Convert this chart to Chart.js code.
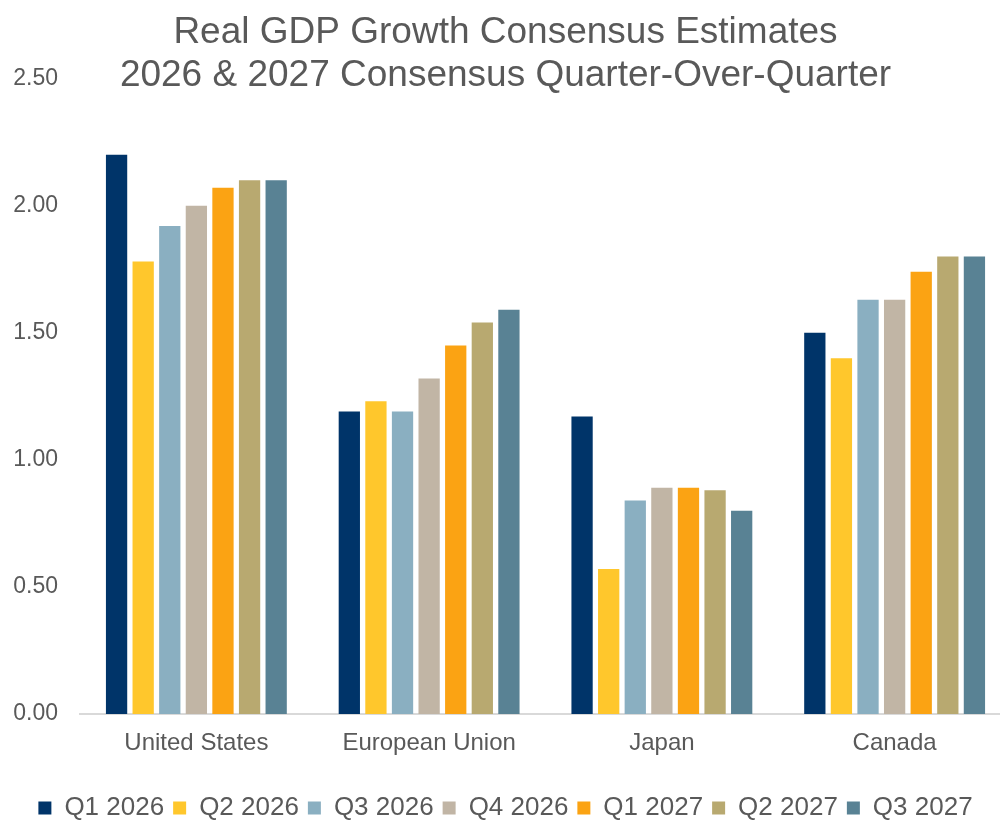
<!DOCTYPE html>
<html>
<head>
<meta charset="utf-8">
<script src="https://cdn.jsdelivr.net/npm/chart.js@4"></script>
<style>
  body { margin: 0; overflow: hidden; background: #fff; }
  #wrap { width: 1011px; height: 821px; }
</style>
</head>
<body>
<div id="wrap"><canvas id="gdpChart"></canvas></div>
<script>
const categories = ["United States", "European Union", "Japan", "Canada"];
const seriesLabels = ["Q1 2026", "Q2 2026", "Q3 2026", "Q4 2026", "Q1 2027", "Q2 2027", "Q3 2027"];
const seriesColors = ["#003469", "#ffc72c", "#8aafc1", "#c1b5a5", "#fba313", "#b8a970", "#598294"];

// one array per quarter: US, EU, Japan, Canada
const q1_2026 = [2.20, 1.19, 1.17, 1.50];
const q2_2026 = [1.78, 1.23, 0.57, 1.40];
const q3_2026 = [1.92, 1.19, 0.84, 1.63];
const q4_2026 = [2.00, 1.32, 0.89, 1.63];
const q1_2027 = [2.07, 1.45, 0.89, 1.74];
const q2_2027 = [2.10, 1.54, 0.88, 1.80];
const q3_2027 = [2.10, 1.59, 0.80, 1.80];
const seriesValues = [q1_2026, q2_2026, q3_2026, q4_2026, q1_2027, q2_2027, q3_2027];

const yTicks = [0, 0.5, 1, 1.5, 2, 2.5];

const textColor = "#595959";
const fontFamily = "'Liberation Sans', Arial, sans-serif";

const chart = new Chart(document.getElementById("gdpChart"), {
  type: "bar",
  data: {
    labels: categories,
    datasets: seriesLabels.map((label, i) => ({
      label: label,
      data: seriesValues[i],
      backgroundColor: seriesColors[i],
      borderWidth: 0,
      categoryPercentage: 0.8,
      barPercentage: 0.8,
    })),
  },
  options: {
    responsive: true,
    maintainAspectRatio: false,
    animation: false,
    layout: { padding: { left: 0, right: 0, top: 0, bottom: -10 } },
    scales: {
      x: {
        grid: { display: false, drawTicks: false },
        border: { display: true, color: "#d9d9d9", width: 2 },
        ticks: {
          color: textColor,
          font: { family: fontFamily, size: 24 },
          padding: 15,
        },
        afterFit: (scale) => { scale.height = 72; },
      },
      y: {
        min: 0,
        max: 2.5,
        afterBuildTicks: (scale) => {
          scale.ticks = yTicks.map((v) => ({ value: v }));
        },
        grid: { display: false, drawTicks: false },
        border: { display: false },
        ticks: {
          color: textColor,
          font: { family: fontFamily, size: 23 },
          padding: 22,
          callback: (value) => value.toFixed(2),
        },
        afterFit: (scale) => { scale.width = 80; },
      },
    },
    plugins: {
      title: {
        display: true,
        text: ["Real GDP Growth Consensus Estimates", "2026 & 2027 Consensus Quarter-Over-Quarter"],
        color: textColor,
        font: { family: fontFamily, size: 37, weight: "normal", lineHeight: 1.17 },
        padding: { top: 11, bottom: -19 },
      },
      legend: {
        position: "bottom",
        labels: {
          color: textColor,
          font: { family: fontFamily, size: 26 },
          boxWidth: 13,
          boxHeight: 13,
          padding: 9,
        },
      },
      tooltip: { enabled: false },
    },
  },
});
</script>
</body>
</html>
